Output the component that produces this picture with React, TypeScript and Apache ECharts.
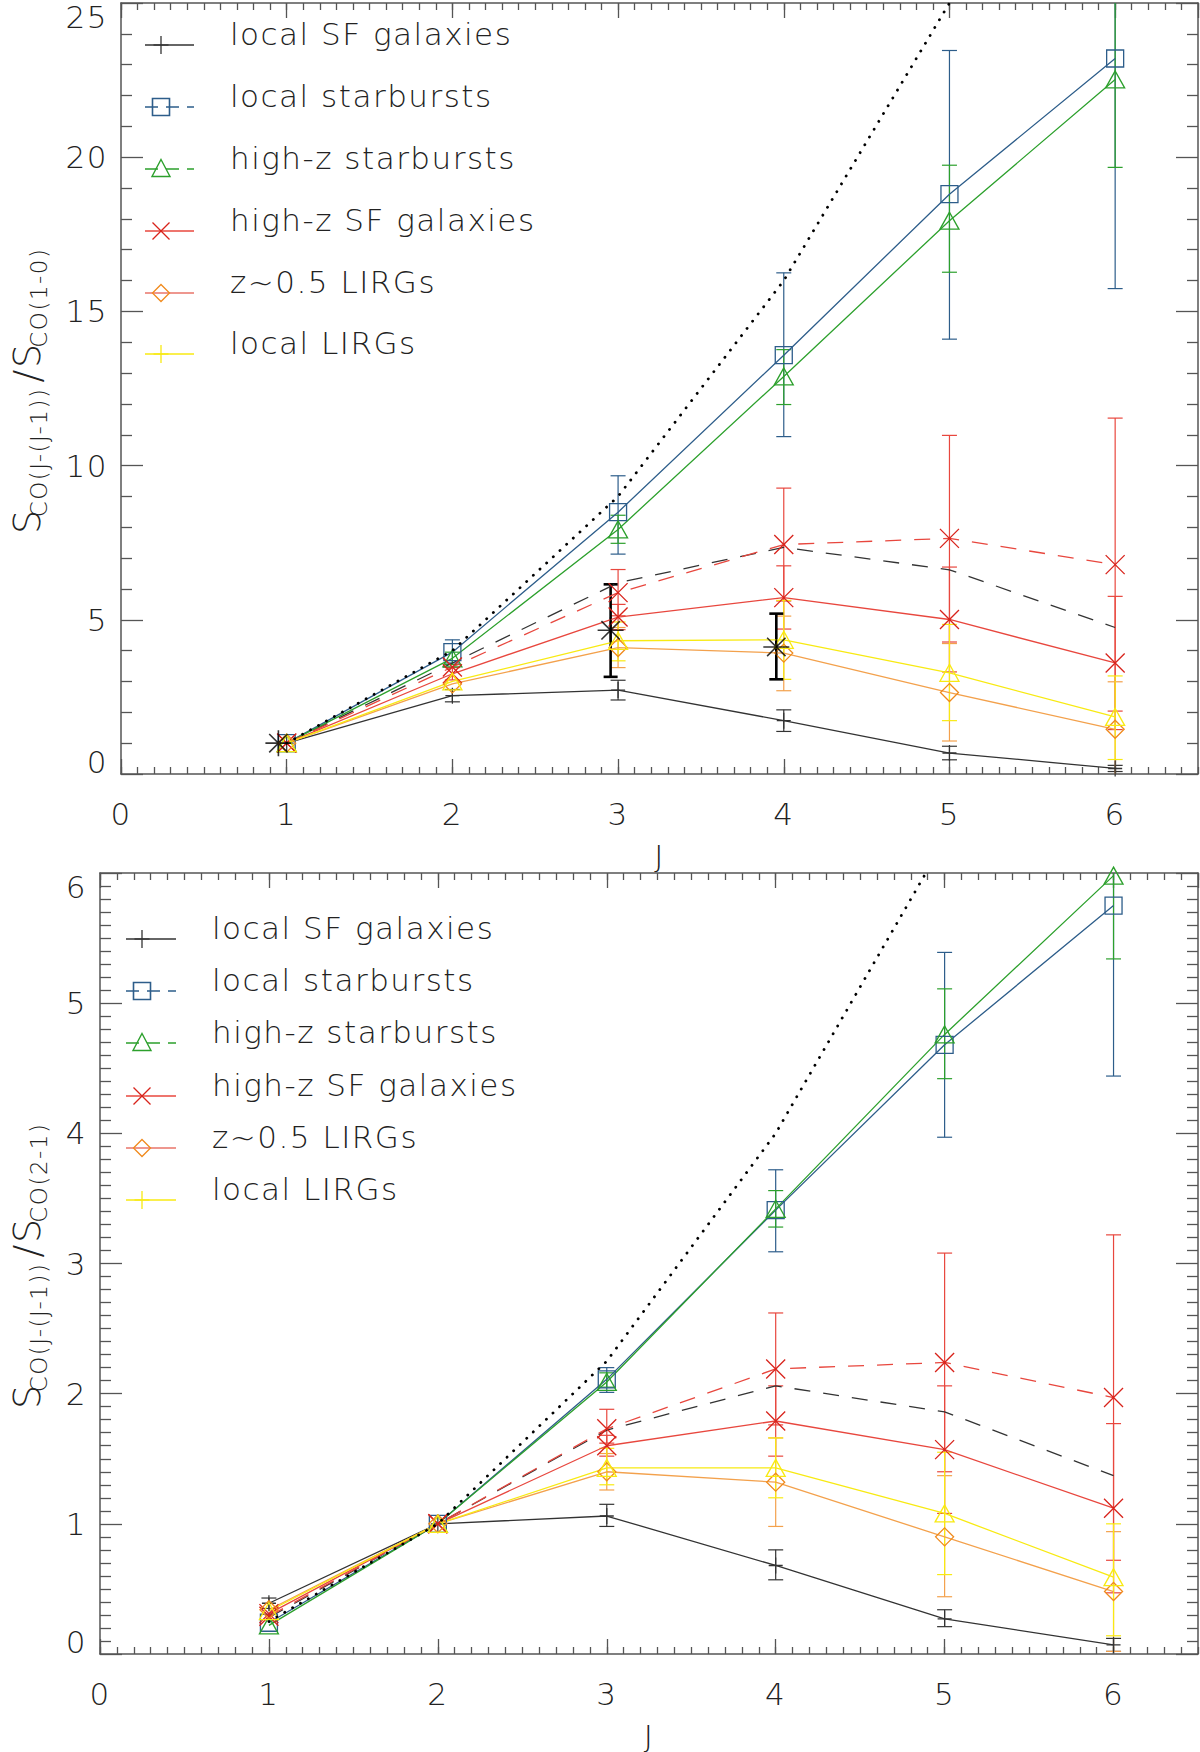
import * as echarts from "echarts";
import { useEffect, useRef } from "react";

const FONT = '"DejaVu Sans", sans-serif';
const TXT = "#222";
const AXIS = "#555";
const LS = 1.5; // letter spacing applied through CSS, compensated in rich tokens

const J = [1, 2, 3, 4, 5, 6];

// upper panel: S_CO(J-(J-1)) / S_CO(1-0)
const thermalA = [1, 4, 9, 16, 25, 36];
const localSFA = [1, 2.54, 2.72, 1.73, 0.68, 0.18];
const allDashA = [1, 3.6, 6.2, 7.35, 6.62, 4.75];
const localSBA = [1, 3.95, 8.49, 13.58, 18.8, 23.2];
const highzSBA = [1, 3.75, 7.93, 12.89, 17.94, 22.52];
const highzSFA = [1, 3.25, 5.09, 5.72, 5.01, 3.6];
const highzSFDashA = [1, 3.47, 5.88, 7.44, 7.64, 6.79];
const lirgZ05A = [1, 2.92, 4.1, 3.92, 2.64, 1.45];
const localLirgA = [1, 3.0, 4.32, 4.35, 3.28, 1.85];
const starJ = [0.95, 2.955, 3.955];
const starA = [1, 4.66, 4.12];

// error bars [J, low, high]
const errLocalSFA = [[2, 2.34, 2.74], [3, 2.4, 3.04], [4, 1.38, 2.08], [5, 0.46, 0.9], [6, 0.08, 0.28]];
const errLocalSBA = [[2, 3.6, 4.35], [3, 7.13, 9.67], [4, 10.94, 16.25], [5, 14.1, 23.46], [6, 15.74, 30.7]];
const errHighzSBA = [[2, 3.55, 3.95], [3, 7.48, 8.39], [4, 11.98, 13.76], [5, 16.27, 19.74], [6, 19.67, 25.4]];
const errHighzSFA = [[2, 3.05, 3.45], [3, 4.68, 5.5], [4, 4.7, 6.75], [5, 3.31, 6.71], [6, 1.44, 5.76]];
const errHighzSFDashA = [[3, 5.13, 6.63], [4, 5.61, 9.27], [5, 4.28, 10.98], [6, 2.04, 11.54]];
const errLirgZ05A = [[3, 3.45, 4.75], [4, 2.7, 5.12], [5, 1.07, 4.23], [6, -0.1, 2.99]];
const errLocalLirgA = [[3, 3.67, 4.93], [4, 3.07, 5.63], [5, 1.73, 4.85], [6, 0.47, 3.18]];
const errStarA = [[2.955, 3.15, 6.15], [3.955, 3.07, 5.2]];

// lower panel: S_CO(J-(J-1)) / S_CO(2-1)
const thermalB = [0.25, 1, 2.25, 4, 6.25, 9];
const localSFB = [0.39, 1, 1.06, 0.68, 0.27, 0.07];
const allDashB = [0.28, 1, 1.72, 2.06, 1.86, 1.37];
const localSBB = [0.24, 1, 2.11, 3.41, 4.68, 5.75];
const highzSBB = [0.22, 1, 2.09, 3.42, 4.76, 5.98];
const highzSFB = [0.31, 1, 1.6, 1.79, 1.57, 1.12];
const highzSFDashB = [0.29, 1, 1.73, 2.19, 2.24, 1.97];
const lirgZ05B = [0.34, 1, 1.4, 1.32, 0.9, 0.48];
const localLirgB = [0.33, 1, 1.43, 1.43, 1.08, 0.59];

const errLocalSFB = [[1, 0.35, 0.43], [3, 0.98, 1.15], [4, 0.57, 0.8], [5, 0.21, 0.34], [6, 0.02, 0.12]];
const errLocalSBB = [[3, 2.01, 2.2], [4, 3.09, 3.72], [5, 3.97, 5.39], [6, 4.44, 7.1]];
const errHighzSBB = [[3, 2.05, 2.16], [4, 3.28, 3.56], [5, 4.42, 5.11], [6, 5.34, 6.6]];
const errHighzSFB = [[3, 1.52, 1.68], [4, 1.52, 2.06], [5, 1.08, 2.06], [6, 0.47, 1.77]];
const errHighzSFDashB = [[3, 1.62, 1.88], [4, 1.76, 2.62], [5, 1.4, 3.08], [6, 0.72, 3.22]];
const errLirgZ05B = [[3, 1.26, 1.54], [4, 0.98, 1.66], [5, 0.44, 1.37], [6, 0.02, 0.94]];
const errLocalLirgB = [[3, 1.3, 1.58], [4, 1.2, 1.66], [5, 0.61, 1.55], [6, 0.14, 1.0]];

const legendNames = ["local SF galaxies", "local starbursts", "high-z starbursts", "high-z SF galaxies", "z~0.5 LIRGs", "local LIRGs"];

const C = {
  black: "#333333",
  blue: "#2d5d8a",
  green: "#2ca02c",
  red: "#e8473e",
  redMark: "#d8231b",
  orange: "#f3a14c",
  orangeMark: "#f08a1c",
  yellow: "#f8ea12",
};

const SYM = {
  plus: "path://M5,0L5,10M0,5L10,5",
  cross: "path://M0,0L10,10M0,10L10,0",
  square: "path://M0,0L10,0L10,10L0,10Z",
  tri: "path://M5,0L10,8.7L0,8.7Z",
  diamond: "path://M5,0L10,5L5,10L0,5Z",
  star: "path://M0,5L10,5M5,0L5,10M1.46,1.46L8.54,8.54M1.46,8.54L8.54,1.46",
};

const fontStyle = { fontFamily: FONT, fontWeight: 300, fontSize: 31, color: TXT };

function line(name: string, vals: number[], color: string, grid: number, o: any = {}) {
  return {
    type: "line",
    name,
    xAxisIndex: grid * 4,
    yAxisIndex: grid * 2,
    data: J.map((j, i) => [j, vals[i]]),
    symbol: o.symbol || "none",
    symbolSize: o.size || 16,
    showSymbol: !!o.symbol,
    lineStyle: { color, width: o.width || 1.3, type: o.dash || "solid", cap: o.cap || "butt" },
    itemStyle: { color: "transparent", borderColor: o.mark || color, borderWidth: 1.3 },
    clip: true,
    silent: true,
    z: o.z || 3,
    emphasis: { disabled: true },
  };
}

function errs(data: number[][], color: string, grid: number, cap = 7.5, width = 1.2) {
  return {
    type: "custom",
    xAxisIndex: grid * 4,
    yAxisIndex: grid * 2,
    data,
    encode: { x: 0, y: [1, 2] },
    clip: true,
    silent: true,
    z: 2,
    renderItem: (_p: any, api: any) => {
      const x = api.value(0);
      const lo = api.coord([x, api.value(1)]);
      const hi = api.coord([x, api.value(2)]);
      const style = { stroke: color, lineWidth: width, fill: "none" };
      return {
        type: "group",
        children: [
          { type: "line", shape: { x1: lo[0], y1: lo[1], x2: hi[0], y2: hi[1] }, style },
          { type: "line", shape: { x1: lo[0] - cap, y1: lo[1], x2: lo[0] + cap, y2: lo[1] }, style },
          { type: "line", shape: { x1: hi[0] - cap, y1: hi[1], x2: hi[0] + cap, y2: hi[1] }, style },
        ],
      };
    },
  };
}

function panelSeries(grid: number, d: any) {
  return [
    line("thermal", d.thermal, "#000", grid, { dash: [0.1, 9], width: 2.8, cap: "round", z: 4 }),
    errs(d.eLocalSF, C.black, grid),
    errs(d.eLocalSB, C.blue, grid),
    errs(d.eHighzSB, C.green, grid),
    errs(d.eHighzSF, C.red, grid),
    errs(d.eHighzSFDash, C.red, grid),
    errs(d.eLirg, C.orange, grid),
    errs(d.eLocalLirg, C.yellow, grid),
    line("local SF galaxies", d.localSF, C.black, grid, { symbol: SYM.plus, size: [14, 16] }),
    line("all", d.allDash, C.black, grid, { dash: [16, 13] }),
    line("local starbursts", d.localSB, C.blue, grid, { symbol: SYM.square, size: 17 }),
    line("high-z starbursts", d.highzSB, C.green, grid, { symbol: SYM.tri, size: [19, 17] }),
    line("high-z SF galaxies", d.highzSF, C.red, grid, { symbol: SYM.cross, size: 19, mark: C.redMark }),
    line("high-z SF galaxies all", d.highzSFDash, C.red, grid, { symbol: SYM.cross, size: 19, mark: C.redMark, dash: [16, 13] }),
    line("z~0.5 LIRGs", d.lirg, C.orange, grid, { symbol: SYM.diamond, size: 18, mark: C.orangeMark }),
    line("local LIRGs", d.localLirg, C.yellow, grid, { symbol: SYM.tri, size: [19, 17] }),
  ];
}

function xAxes(grid: number, labelled: boolean) {
  const base = { type: "value", gridIndex: grid, min: 0, max: 6.5 };
  const major = (position: string, show: boolean) => ({
    ...base,
    position,
    interval: 1,
    axisLine: { show: true, onZero: false, lineStyle: { color: AXIS, width: 1.5 } },
    axisTick: { inside: true, length: 15, lineStyle: { color: AXIS, width: 1.3 } },
    axisLabel: { show, showMaxLabel: false, margin: 24, ...fontStyle },
    splitLine: { show: false },
    name: show ? "J" : "",
    nameLocation: "middle",
    nameGap: 66,
    nameTextStyle: fontStyle,
  });
  const minor = (position: string) => ({
    ...base,
    position,
    interval: 0.1,
    axisLine: { show: false, onZero: false },
    axisTick: { inside: true, length: 7, lineStyle: { color: AXIS, width: 1.3 } },
    axisLabel: { show: false },
    splitLine: { show: false },
  });
  return [major("bottom", labelled), minor("bottom"), major("top", false), minor("top")];
}

// rich tokens are placed from widths measured without the CSS letter spacing,
// so each token gets a right padding for the extra width it will take
const tok = (style: string, text: string) => `{${style}${text.length}|${text}}`;
const richFor = (texts: string[]) => {
  const r: any = {};
  texts.forEach((t) => {
    const n = t.length;
    const pad = [0, (n - 1) * LS, 0, 0];
    r["S" + n] = { fontFamily: FONT, fontWeight: 300, fontSize: 38, lineHeight: 46, color: TXT, padding: pad };
    r["sub" + n] = { fontFamily: FONT, fontWeight: 300, fontSize: 23, lineHeight: 23, color: TXT, verticalAlign: "bottom", padding: pad };
  });
  return r;
};

function yAxes(grid: number, max: number, interval: number, minorSplit: number, ratio: string, nameGap: number) {
  const parts = ["S", "CO(J-(J-1))", "/S", ratio];
  const name = tok("S", parts[0]) + tok("sub", parts[1]) + tok("S", parts[2]) + tok("sub", parts[3]);
  const mk = (position: string, show: boolean) => ({
    type: "value",
    gridIndex: grid,
    position,
    min: 0,
    max,
    interval,
    axisLine: { show: true, onZero: false, lineStyle: { color: AXIS, width: 1.5 } },
    axisTick: { inside: true, length: 22, lineStyle: { color: AXIS, width: 1.3 } },
    minorTick: { show: true, splitNumber: minorSplit, length: 11, lineStyle: { color: AXIS, width: 1.3 } },
    splitLine: { show: false },
    minorSplitLine: { show: false },
    axisLabel: {
      show,
      margin: 13,
      ...fontStyle,
      formatter: (v: number) => (v === 0 ? "{lo|0}" : v === max ? "{hi|" + v + "}" : String(v)),
      rich: {
        lo: { ...fontStyle, padding: [0, 0, 24, 0] },
        hi: { ...fontStyle, padding: [28, 0, 0, 0] },
      },
    },
    name: show ? name : "",
    nameLocation: "middle",
    nameRotate: 90,
    nameGap,
    nameTextStyle: { rich: richFor(parts) },
  });
  return [mk("left", true), mk("right", false)];
}

function legendGraphics(x0: number, x1: number, xm: number, tx: number, rows: number[]) {
  const g: any[] = [];
  const st = (c: string, w = 1.3) => ({ stroke: c, lineWidth: w, fill: "none" });
  const styles = [
    { c: C.black, dash: null, m: "plus", mc: C.black },
    { c: C.blue, dash: [13, 8], m: "square", mc: C.blue },
    { c: C.green, dash: [13, 8], m: "tri", mc: C.green },
    { c: C.red, dash: null, m: "cross", mc: C.redMark },
    { c: "#e8756a", dash: null, m: "diamond", mc: C.orangeMark },
    { c: C.yellow, dash: null, m: "plus", mc: C.yellow },
  ];
  styles.forEach((s, i) => {
    const y = rows[i];
    g.push({ type: "line", silent: true, shape: { x1: x0, y1: y, x2: x1, y2: y }, style: { ...st(s.c, 1.6), lineDash: s.dash || undefined } });
    const h = 8.5;
    if (s.m === "plus") {
      g.push({ type: "line", silent: true, shape: { x1: xm - 7.5, y1: y, x2: xm + 7.5, y2: y }, style: st(s.mc) });
      g.push({ type: "line", silent: true, shape: { x1: xm, y1: y - 9, x2: xm, y2: y + 9 }, style: st(s.mc) });
    } else if (s.m === "square") {
      g.push({ type: "rect", silent: true, shape: { x: xm - h, y: y - h, width: 2 * h, height: 2 * h }, style: st(s.mc, 1.6) });
    } else if (s.m === "tri") {
      g.push({ type: "polygon", silent: true, shape: { points: [[xm, y - 9.5], [xm + 9, y + 7.5], [xm - 9, y + 7.5]] }, style: st(s.mc, 1.4) });
    } else if (s.m === "cross") {
      g.push({ type: "line", silent: true, shape: { x1: xm - h, y1: y - h, x2: xm + h, y2: y + h }, style: st(s.mc) });
      g.push({ type: "line", silent: true, shape: { x1: xm - h, y1: y + h, x2: xm + h, y2: y - h }, style: st(s.mc) });
    } else {
      g.push({ type: "polygon", silent: true, shape: { points: [[xm, y - h], [xm + h, y], [xm, y + h], [xm - h, y]] }, style: st(s.mc) });
    }
    g.push({
      type: "text",
      silent: true,
      x: tx,
      y: y - 11,
      style: { text: legendNames[i], fill: TXT, fontSize: 31, fontFamily: FONT, fontWeight: 300, verticalAlign: "middle", align: "left" },
    });
  });
  return g;
}

export default function App() {
  const ref = useRef<HTMLDivElement | null>(null);

  useEffect(() => {
    if (!ref.current) return;
    const chart = echarts.init(ref.current, undefined, { renderer: "svg" });
    const top = {
      thermal: thermalA, localSF: localSFA, allDash: allDashA, localSB: localSBA, highzSB: highzSBA,
      highzSF: highzSFA, highzSFDash: highzSFDashA, lirg: lirgZ05A, localLirg: localLirgA,
      eLocalSF: errLocalSFA, eLocalSB: errLocalSBA, eHighzSB: errHighzSBA, eHighzSF: errHighzSFA,
      eHighzSFDash: errHighzSFDashA, eLirg: errLirgZ05A, eLocalLirg: errLocalLirgA,
    };
    const bottom = {
      thermal: thermalB, localSF: localSFB, allDash: allDashB, localSB: localSBB, highzSB: highzSBB,
      highzSF: highzSFB, highzSFDash: highzSFDashB, lirg: lirgZ05B, localLirg: localLirgB,
      eLocalSF: errLocalSFB, eLocalSB: errLocalSBB, eHighzSB: errHighzSBB, eHighzSF: errHighzSFB,
      eHighzSFDash: errHighzSFDashB, eLirg: errLirgZ05B, eLocalLirg: errLocalLirgB,
    };
    chart.setOption({
      animation: false,
      backgroundColor: "#fff",
      grid: [
        { left: 111, top: 3, width: 1087, height: 771 },
        { left: 92, top: 873, width: 1106, height: 786 },
      ],
      xAxis: [...xAxes(0, true), ...xAxes(1, true)],
      yAxis: [...yAxes(0, 25, 5, 5, "CO(1-0)", 71), ...yAxes(1, 6, 1, 10, "CO(2-1)", 50)],
      series: [
        ...panelSeries(0, top),
        errs(errStarA, "#000", 0, 7, 2.6),
        {
          type: "scatter",
          xAxisIndex: 0,
          yAxisIndex: 0,
          data: starJ.map((j, i) => [j, starA[i]]),
          symbol: SYM.star,
          symbolSize: 26,
          itemStyle: { color: "transparent", borderColor: "#000", borderWidth: 1.6 },
          silent: true,
          z: 6,
        },
        ...panelSeries(1, bottom),
      ],
      graphic: [
        ...legendGraphics(145, 194, 161, 230, [45, 107, 169, 231, 293, 354]),
        ...legendGraphics(126, 176, 142, 212, [939, 991, 1043, 1096, 1148, 1200]),
      ],
    });
    return () => chart.dispose();
  }, []);

  return (
    <div
      ref={ref}
      style={{ position: "absolute", left: 0, top: 0, width: 1200, height: 1752, letterSpacing: LS + "px" }}
    />
  );
}
